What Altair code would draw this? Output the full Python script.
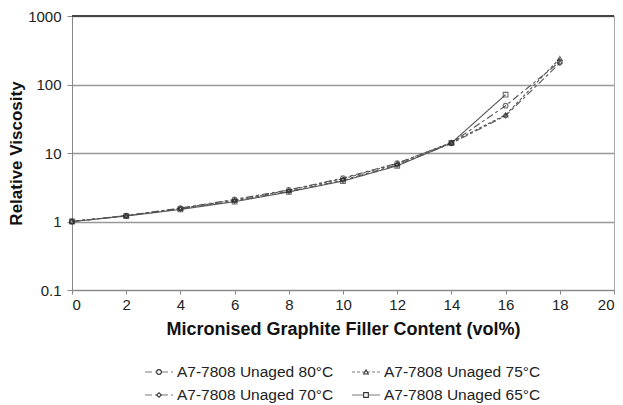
import altair as alt
import pandas as pd

# ---- data ----
filler = [0, 2, 4, 6, 8, 10, 12, 14, 16, 18]
series_names = ["A7-7808 Unaged 80°C", "A7-7808 Unaged 75°C",
                "A7-7808 Unaged 70°C", "A7-7808 Unaged 65°C"]
visc_80 = [1, 1.22, 1.57, 2.10, 2.90, 4.30, 7.1, 14.0, 49, 215]
visc_75 = [1, 1.22, 1.55, 2.05, 2.85, 4.20, 7.0, 14.3, 36, 240]
visc_70 = [1, 1.21, 1.52, 2.00, 2.75, 4.00, 6.7, 13.8, 35, 205]
visc_65 = [1, 1.20, 1.50, 1.95, 2.70, 3.90, 6.5, 14.0, 71]
y_ticks = [0.1, 1, 10, 100, 1000]
x_ticks = [0, 2, 4, 6, 8, 10, 12, 14, 16, 18, 20]
legend_col = [0, 1, 0, 1]
legend_row = [0, 0, 1, 1]

rows = []
for name, vals in zip(series_names, [visc_80, visc_75, visc_70, visc_65]):
    for xv, yv in zip(filler, vals):
        rows.append({"series": name, "x": xv, "y": yv})
df = pd.DataFrame(rows)
leg = pd.DataFrame({"series": series_names, "col": legend_col, "row": legend_row})

FONT = "Liberation Sans"
dash_scale = alt.Scale(domain=series_names,
                       range=[[7, 3, 3, 3], [3, 2], [7, 3, 3, 3], [1, 0]])
shape_scale = alt.Scale(domain=series_names,
                        range=["circle", "triangle-up", "diamond", "square"])

xenc = alt.X("x:Q", scale=alt.Scale(domain=[0, 20], nice=False),
             axis=alt.Axis(values=x_ticks, title="Micronised Graphite Filler Content (vol%)",
                           grid=False, domainColor="#888", tickColor="#888",
                           tickSize=4, labelFontSize=15, labelFont=FONT,
                           labelColor="#222", labelPadding=3,
                           titleFont=FONT, titleFontSize=18, titleFontWeight="bold",
                           titleColor="#111", titlePadding=8))
yenc = alt.Y("y:Q", scale=alt.Scale(type="log", domain=[0.1, 1000], nice=False),
             axis=alt.Axis(values=y_ticks, format="~g", title="Relative Viscosity",
                           grid=True, gridColor="#999", gridWidth=1.3,
                           domainColor="#888", tickColor="#888", tickSize=5,
                           labelFontSize=15, labelFont=FONT, labelColor="#222",
                           labelPadding=6,
                           titleFont=FONT, titleFontSize=17, titleFontWeight="bold",
                           titleColor="#111", titlePadding=2))

lines = alt.Chart(df).mark_line(color="#555", strokeWidth=1.1).encode(
    x=xenc, y=yenc,
    strokeDash=alt.StrokeDash("series:N", scale=dash_scale, legend=None),
    detail="series:N",
)
points = alt.Chart(df).mark_point(filled=False, color="#333", size=22,
                                  strokeWidth=1.1).encode(
    x=xenc, y=yenc,
    shape=alt.Shape("series:N", scale=shape_scale, legend=None),
)
top_border = alt.Chart(df).mark_rule(color="#444", strokeWidth=1.2).encode(
    x=alt.value(0), x2=alt.value(542), y=alt.value(0)
)
main = alt.layer(lines, points, top_border)

lx = alt.X("col:Q", scale=alt.Scale(domain=[0, 1], range=[87, 294]), axis=None)
ly = alt.Y("row:Q", scale=alt.Scale(domain=[0, 1], range=[356, 379]), axis=None)

lg_line = alt.Chart(leg).mark_point(shape="M-1,0L1,0", size=784, color="#444",
                                    strokeWidth=1.1, filled=False).encode(
    x=lx, y=ly,
    strokeDash=alt.StrokeDash("series:N", scale=dash_scale, legend=None),
)
lg_pt = alt.Chart(leg).mark_point(filled=True, fill="white", stroke="#333",
                                  strokeWidth=1.1, size=22, opacity=1).encode(
    x=lx, y=ly,
    shape=alt.Shape("series:N", scale=shape_scale, legend=None),
)
lg_text = alt.Chart(leg).mark_text(align="left", baseline="middle", dx=18,
                                   font=FONT, fontSize=15.5, color="#222").encode(
    x=lx, y=ly, text="series:N",
)
legend = alt.layer(lg_line, lg_pt, lg_text)

chart = alt.layer(main, legend).resolve_scale(
    x="independent", y="independent", strokeDash="shared", shape="shared"
).properties(
    width=542, height=274,
    autosize=alt.AutoSizeParams(type="none"),
    padding={"left": 64, "top": 8, "right": 1, "bottom": 116},
).configure_view(stroke="#aaa", strokeWidth=1)

chart.save("out.html", embed_options={"renderer": "svg", "actions": False})
